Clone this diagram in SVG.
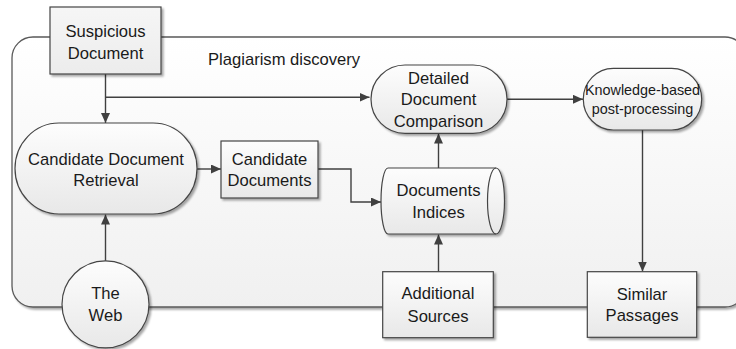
<svg xmlns="http://www.w3.org/2000/svg" width="736" height="349" viewBox="0 0 736 349">
<defs>
<linearGradient id="gNode" x1="0" y1="0" x2="0" y2="1">
<stop offset="0" stop-color="#fdfdfd"/>
<stop offset="1" stop-color="#e8e8e8"/>
</linearGradient>
<linearGradient id="gBox" x1="0" y1="0" x2="0" y2="1">
<stop offset="0" stop-color="#f6f6f6"/>
<stop offset="1" stop-color="#ececec"/>
</linearGradient>
<linearGradient id="gCont" x1="0" y1="0" x2="0" y2="1">
<stop offset="0" stop-color="#ffffff"/>
<stop offset="1" stop-color="#f0f0f0"/>
</linearGradient>
<filter id="sh" x="-10%" y="-10%" width="130%" height="130%">
<feGaussianBlur in="SourceAlpha" stdDeviation="1"/>
<feOffset dx="2" dy="2" result="b"/>
<feComponentTransfer><feFuncA type="linear" slope="0.35"/></feComponentTransfer>
<feMerge><feMergeNode/><feMergeNode in="SourceGraphic"/></feMerge>
</filter>
<marker id="arr" markerUnits="userSpaceOnUse" markerWidth="11" markerHeight="10" refX="10" refY="4.5" orient="auto">
<path d="M0,0 L10,4.5 L0,9 z" fill="#404040"/>
</marker>
</defs>
<style>
.shape{stroke:#454545;stroke-width:1.2;fill:url(#gNode);filter:url(#sh)}
.box{stroke:#454545;stroke-width:1.2;fill:url(#gBox);filter:url(#sh)}
.conn{fill:none;stroke:#404040;stroke-width:1.4;marker-end:url(#arr)}
text{font-family:"Liberation Sans",Arial,sans-serif;font-size:16.6px;fill:#1a1a1a;text-anchor:middle}
.small{font-size:14.4px}
</style>
<g id="container">
<rect x="12" y="37" width="734" height="270" rx="21" ry="21" fill="url(#gCont)" stroke="#5a5a5a" stroke-width="1.3" filter="url(#sh)"/>
<text x="208" y="65" style="text-anchor:start">Plagiarism discovery</text>
</g>
<g id="connectors">
<path class="conn" d="M105.5,74 V123"/>
<path class="conn" d="M105,97.3 H369.5"/>
<path class="conn" d="M197,169 H221"/>
<path class="conn" d="M318,169 H351 V202 H381"/>
<path class="conn" d="M438.5,168 V133.5"/>
<path class="conn" d="M438.5,271.7 V234.5"/>
<path class="conn" d="M507,99.3 H583"/>
<path class="conn" d="M642.5,130 V271.5"/>
<path class="conn" d="M105.5,261 V214.5"/>
</g>
<g id="suspicious-document">
<rect class="box" x="50" y="7" width="111" height="67"/>
<text x="105.5" y="37">Suspicious</text>
<text x="105.5" y="58.5">Document</text>
</g>
<g id="candidate-document-retrieval">
<rect class="shape" x="15" y="123" width="182" height="91" rx="44" ry="45.5"/>
<text x="106" y="164.5">Candidate Document</text>
<text x="106" y="186">Retrieval</text>
</g>
<g id="candidate-documents">
<rect class="box" x="221" y="141" width="97" height="57" style="fill:url(#gNode)"/>
<text x="269.5" y="164.5">Candidate</text>
<text x="269.5" y="186">Documents</text>
</g>
<g id="documents-indices">
<path class="shape" d="M388,168 L496,168 A8.5,33 0 0 1 496,234 L388,234 A7,33 0 0 1 388,168 Z"/>
<path d="M496,168 A8.5,33 0 0 0 496,234" fill="none" stroke="#454545" stroke-width="1.2"/>
<text x="438.5" y="196">Documents</text>
<text x="438.5" y="218.3">Indices</text>
</g>
<g id="detailed-document-comparison">
<rect class="shape" x="371" y="65" width="136" height="68.3" rx="34" ry="34"/>
<text x="438.5" y="83.5">Detailed</text>
<text x="438.5" y="105">Document</text>
<text x="438.5" y="126.5">Comparison</text>
</g>
<g id="knowledge-based-post-processing">
<rect class="shape" x="583.3" y="68.3" width="118.4" height="61.7" rx="30" ry="30.8"/>
<text class="small" x="642.5" y="95.3">Knowledge-based</text>
<text class="small" x="642.5" y="114.3">post-processing</text>
</g>
<g id="the-web">
<circle class="shape" cx="105.5" cy="304.3" r="43.5"/>
<text x="105.5" y="299">The</text>
<text x="105.5" y="321">Web</text>
</g>
<g id="additional-sources">
<rect class="box" x="382.7" y="271.7" width="110.6" height="66" style="fill:url(#gNode)"/>
<text x="438" y="299.3">Additional</text>
<text x="438" y="321.7">Sources</text>
</g>
<g id="similar-passages">
<rect class="box" x="587.3" y="271.7" width="109.4" height="65.6" style="fill:url(#gNode)"/>
<text x="642" y="300">Similar</text>
<text x="642" y="320.7">Passages</text>
</g>
</svg>
